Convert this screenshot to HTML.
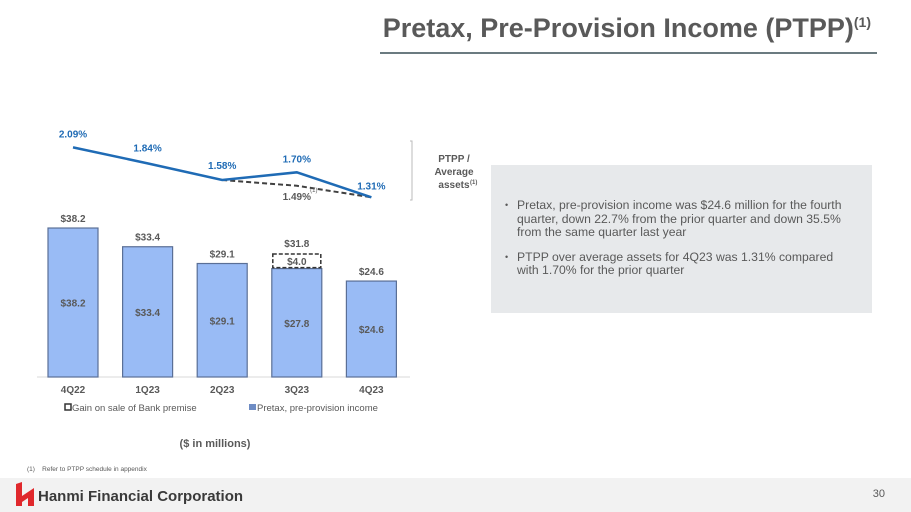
<!DOCTYPE html>
<html><head><meta charset="utf-8"><style>
body{margin:0;width:911px;height:512px;position:relative;background:#fff;font-family:"Liberation Sans",Arial,sans-serif;overflow:hidden}
.title{position:absolute;right:40px;top:13px;font-size:27px;font-weight:bold;color:#595959;white-space:nowrap}
.title sup{font-size:14px}
.rule{position:absolute;left:380px;top:52px;width:497px;height:2px;background:#6b7b80}
.box{position:absolute;left:491px;top:165px;width:381px;height:148px;background:#e7e9eb;color:#595959;font-size:12.2px;line-height:13.5px}
.box ul{margin:0;padding:0;list-style:none;position:absolute;left:14px;top:34px;width:340px}
.box li{position:relative;padding-left:12px;margin-bottom:11px}
.box li:before{content:"•";position:absolute;left:0;top:0;font-size:9px}
.foot{position:absolute;left:0;top:478px;width:911px;height:34px;background:#f2f2f2}
</style></head><body>
<div class="title">Pretax, Pre-Provision Income (PTPP)<sup>(1)</sup></div>
<div class="rule"></div>
<svg width="911" height="512" style="position:absolute;left:0;top:0" id="chart"></svg>
<div class="box"><ul>
<li>Pretax, pre-provision income was $24.6 million for the fourth quarter, down 22.7% from the prior quarter and down 35.5% from the same quarter last year</li>
<li>PTPP over average assets for 4Q23 was 1.31% compared with 1.70% for the prior quarter</li></ul></div>
<div class="foot">
<svg width="300" height="34" style="position:absolute;left:0;top:0">
<path d="M16 6 L22 4 L22 28 L16 28 Z M22 18 L34 10 L34 28 L28 28 L28 20 L22 24Z" fill="#e0282c"/>
<text x="38" y="23" font-size="15" font-weight="bold" fill="#3a3a3a" font-family="Liberation Sans, sans-serif">Hanmi Financial Corporation</text></svg>
<div style="position:absolute;right:26px;top:10px;font-size:11px;color:#595959">30</div></div>
<div style="position:absolute;left:27px;top:466px;font-size:6.5px;color:#595959">(1)&nbsp;&nbsp;&nbsp; Refer to PTPP schedule in appendix</div>
<script>
const categories=["4Q22","1Q23","2Q23","3Q23","4Q23"];
const ptppValues=[38.2,33.4,29.1,27.8,24.6];
const gainValues=[0,0,0,4.0,0];
const ratioValues=[2.09,1.84,1.58,1.70,1.31];
const adjRatioValues=[null,null,1.58,1.49,1.31];
const svg=document.getElementById('chart');const NS='http://www.w3.org/2000/svg';
function el(t,a,p){const e=document.createElementNS(NS,t);for(const k in a)e.setAttribute(k,a[k]);(p||svg).appendChild(e);return e;}
const xC=i=>73+i*74.6, base=377, yS=v=>v*3.9, yR=v=>180-(v-1.58)*64, bw=50;
const F="Liberation Sans, sans-serif";
el('line',{x1:37,x2:410,y1:base,y2:base,stroke:'#d9d9d9'});
categories.forEach((c,i)=>{
 const x=xC(i),h=yS(ptppValues[i]);
 let r=el('rect',{x:x-bw/2,y:base-h,width:bw,height:h,fill:'#99bbf5',stroke:'#5a6f96','stroke-width':1.2});
 
 let t=el('text',{x:x,y:base-h/2+4,'text-anchor':'middle','font-size':10,'font-weight':'bold',fill:'#595959','font-family':F});t.textContent='$'+ptppValues[i].toFixed(1);
 
 let top=base-h;
 if(gainValues[i]>0){const g=yS(gainValues[i]);
  let gr=el('rect',{x:x-bw/2+1,y:top-g+1,width:bw-2,height:g-2,fill:'#fff',stroke:'#333','stroke-width':1.5,'stroke-dasharray':'4,2'});
  
  let gt=el('text',{x:x,y:top-g/2+4,'text-anchor':'middle','font-size':10,'font-weight':'bold',fill:'#595959','font-family':F});gt.textContent='$'+gainValues[i].toFixed(1);
  
  top-=g;}
 let tt=el('text',{x:x,y:top-6,'text-anchor':'middle','font-size':10,'font-weight':'bold',fill:'#595959','font-family':F});tt.textContent='$'+(ptppValues[i]+gainValues[i]).toFixed(1);
 
 let ct=el('text',{x:x,y:393,'text-anchor':'middle','font-size':10,'font-weight':'bold',fill:'#595959','font-family':F});ct.textContent=c;
 
});
let adj=adjRatioValues.map((v,i)=>v==null?null:xC(i)+','+yR(v)).filter(p=>p).join(' ');
let dl=el('polyline',{points:adj,fill:'none',stroke:'#404040','stroke-width':2,'stroke-dasharray':'5,3'});

let ln=el('polyline',{points:ratioValues.map((v,i)=>xC(i)+','+yR(v)).join(' '),fill:'none',stroke:'#1f6bb5','stroke-width':2.5});

const dy=[-10,-12,-11,-10,-8];
ratioValues.forEach((v,i)=>{let t=el('text',{x:xC(i),y:yR(v)+dy[i],'text-anchor':'middle','font-size':10,'font-weight':'bold',fill:'#1f6bb5','font-family':F});t.textContent=v.toFixed(2)+'%';
 });
let at=el('text',{x:xC(3),y:yR(adjRatioValues[3])+14,'text-anchor':'middle','font-size':10,'font-weight':'bold',fill:'#595959','font-family':F});at.textContent=adjRatioValues[3].toFixed(2)+'%';

let an=el('text',{x:xC(3)+17,y:yR(adjRatioValues[3])+6,'text-anchor':'middle','font-size':6,fill:'#595959','font-family':F});an.textContent='(1)';
el('path',{d:'M410 141 L412 141 L412 200 L410 200',fill:'none',stroke:'#bbb'});
[['PTPP /',162],['Average',175],['assets',188]].forEach(([s,y])=>{let t=el('text',{x:454,y:y,'text-anchor':'middle','font-size':10,'font-weight':'bold',fill:'#595959','font-family':F});t.textContent=s;
 });
el('text',{x:470,y:184,'font-size':6,'font-weight':'bold',fill:'#595959','font-family':F}).textContent='(1)';
let l1=el('rect',{x:65,y:404,width:6,height:6,fill:'#fff',stroke:'#333','stroke-width':1.5});
let lt1=el('text',{x:72,y:411,'font-size':9.5,fill:'#595959','font-family':F});lt1.textContent='Gain on sale of Bank premise';
let l2=el('rect',{x:249,y:404,width:7,height:6,fill:'#6e8cc4'});
let lt2=el('text',{x:257,y:411,'font-size':9.5,fill:'#595959','font-family':F});lt2.textContent='Pretax, pre-provision income';
let un=el('text',{x:215,y:447,'text-anchor':'middle','font-size':11,'font-weight':'bold',fill:'#595959','font-family':F});un.textContent='($ in millions)';
</script>
</body></html>
